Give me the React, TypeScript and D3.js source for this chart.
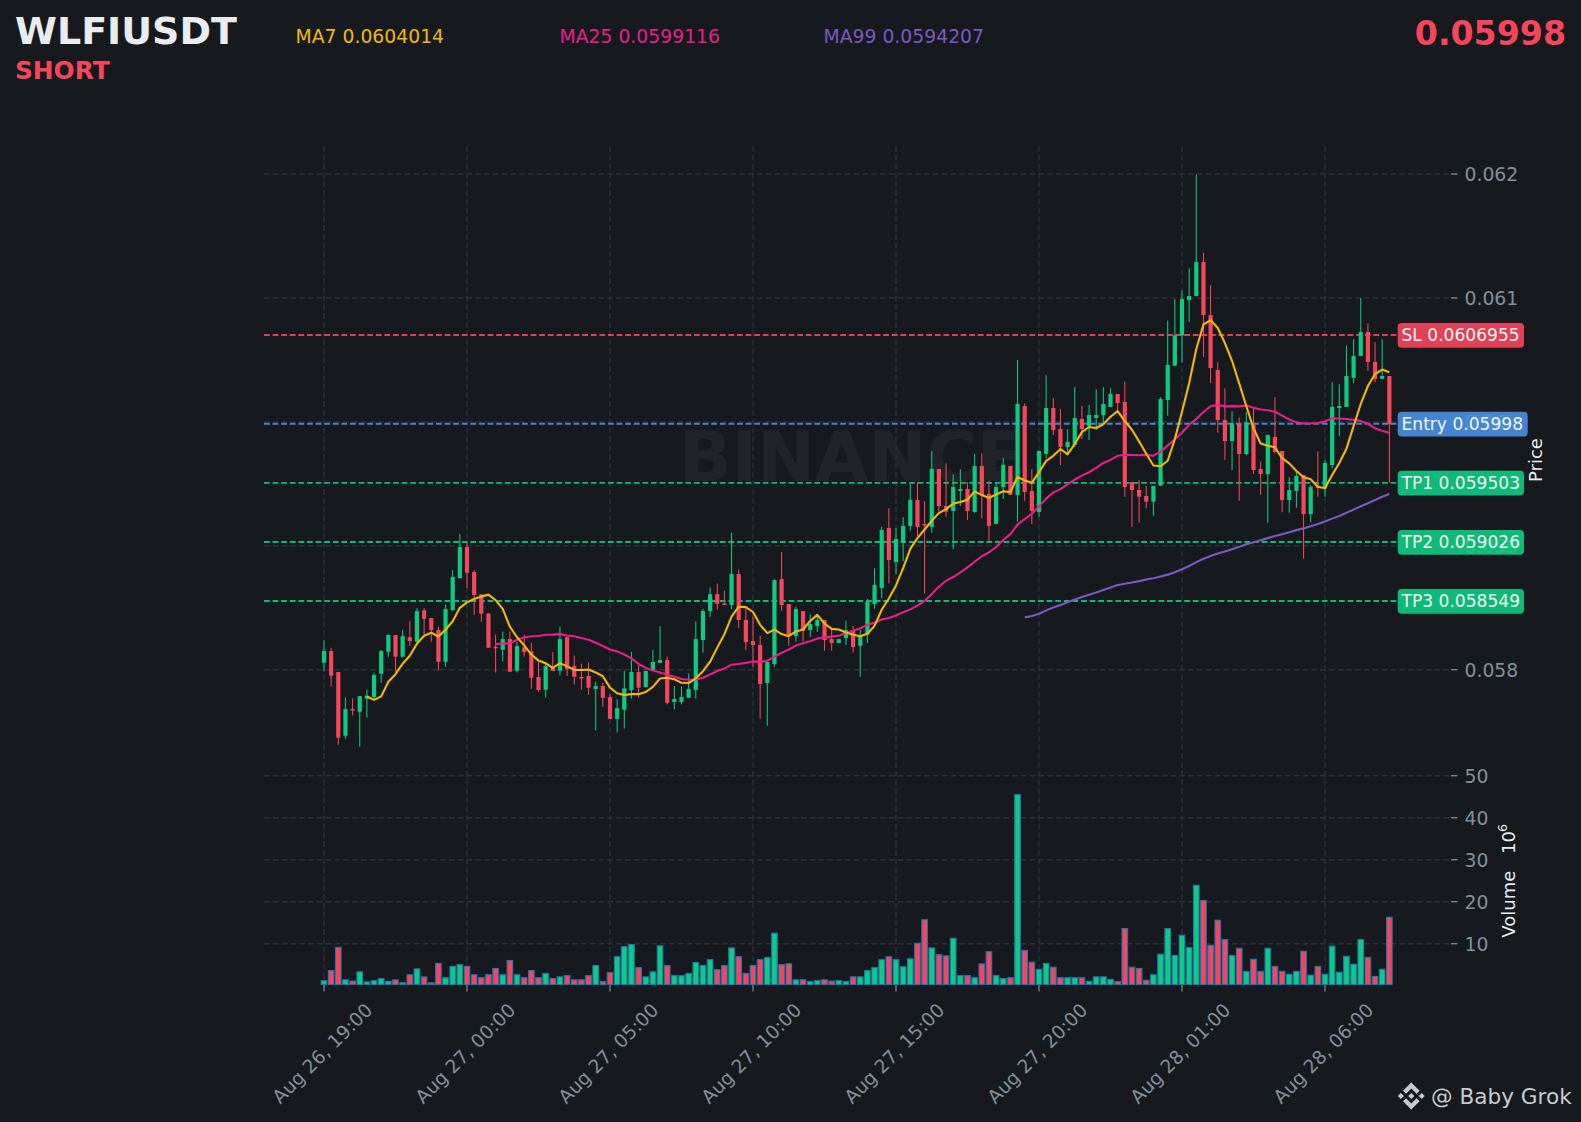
import React from "react";
import * as d3 from "d3";

// Prices in millionths of USDT, volumes in millions.
const opens = [58056,58150,57981,57467,57682,57661,57766,57779,57968,58145,58280,58105,58263,58226,58479,58417,58320,58064,58481,58740,58990,58788,58608,58454,58185,58161,58247,57992,58180,58148,57941,57838,58021,57992,58263,58029,57941,57949,57844,57868,57779,57602,57677,57836,57981,57860,57997,58054,58078,57739,57739,57774,57836,58239,58473,58610,58535,58522,58772,58401,58231,58199,57892,58046,58731,58530,58271,58473,58320,58352,58401,58247,58215,58255,58320,58193,58285,58530,58659,59144,58869,59025,59160,59370,59176,59152,59620,59321,59281,59442,59458,59273,59644,59418,59176,59474,59644,59410,60128,59442,59273,59741,60112,59942,59797,59813,60023,59967,60031,60055,60120,60225,60160,59512,59450,59401,59356,59485,60176,60453,60698,60983,61015,61290,60862,60418,60015,59845,59983,59740,59988,59619,59579,59878,59765,59369,59442,59571,59256,59482,59463,59652,60112,60120,60354,60531,60725,60483,60346,60370];
const highs = [58236,58177,57981,57777,57768,57787,57841,57976,58158,58285,58280,58320,58390,58495,58495,58417,58347,58527,58804,59095,59025,58804,58608,58454,58285,58309,58309,58226,58285,58218,58064,58051,58140,58347,58263,58115,58051,58059,57903,57895,57801,57760,57992,58145,58037,57992,58158,58350,58107,57868,57863,57970,58390,58489,58664,58696,58640,59108,58809,58495,58428,58271,58062,58729,58949,58530,58508,58473,58446,58446,58401,58333,58247,58395,58352,58320,58573,58818,59154,59302,59144,59230,59496,59512,59359,59762,59620,59665,59577,59617,59512,59741,59746,59525,59517,59708,59644,60499,60150,59617,59765,60376,60190,60101,59940,60281,60128,60136,60263,60279,60271,60225,60324,59517,59531,59485,59482,60198,60816,60989,61059,61239,61997,61365,61102,60480,60270,60085,60036,60077,60109,59681,59894,60198,59765,59552,59611,59571,59490,59762,59692,60319,60303,60617,60666,60999,60795,60644,60666,60370];
const lows = [57986,57865,57395,57443,57631,57381,57615,57755,57895,58105,57984,58099,58193,58220,58266,58226,57992,58024,58476,58734,58659,58444,58387,58177,57978,58067,57984,57978,58105,57846,57825,57777,57989,57954,57949,57881,57838,57798,57510,57701,57602,57494,57526,57768,57774,57857,57992,58054,57720,57680,57720,57774,57766,58137,58428,58484,58522,58487,58339,58158,58024,57604,57548,58019,58476,58193,58228,58228,58261,58306,58153,58153,58215,58199,58137,57943,58215,58492,58576,58697,58770,58875,59122,59079,58614,59106,59275,59235,58971,59321,59208,59267,59222,59033,59176,59378,59410,59195,59364,59176,59235,59706,59894,59652,59741,59795,59862,59854,59934,59975,60117,60090,59396,59154,59186,59302,59243,59482,60050,60451,60478,60808,61015,60526,60311,59913,59692,59611,59364,59730,59579,59412,59186,59746,59270,59267,59307,58898,59189,59396,59396,59625,59886,60120,60311,60531,60413,60321,60346,59509];
const closes = [58150,57951,57451,57682,57677,57787,57790,57957,58150,58280,58105,58271,58231,58473,58411,58320,58064,58489,58748,58990,58783,58602,58452,58177,58180,58247,57984,58191,58142,57935,57836,58029,57989,58247,58008,57943,57935,57855,57868,57774,57602,57690,57849,57981,57855,57989,58062,58078,57733,57763,57779,57844,58247,58473,58610,58532,58522,58772,58401,58223,58199,57884,58062,58723,58522,58280,58489,58312,58368,58401,58239,58215,58247,58320,58183,58280,58546,58683,59127,58885,59055,59160,59370,59152,59168,59620,59321,59275,59474,59458,59281,59644,59410,59160,59474,59652,59410,60144,59434,59281,59765,60112,59934,59797,59838,60031,59942,60055,60055,60144,60225,60152,59474,59450,59396,59356,59482,60184,60459,60698,60991,61015,61290,60862,60434,60015,59845,59988,59740,59996,59611,59579,59894,59757,59369,59450,59563,59256,59474,59469,59668,60120,60128,60370,60531,60725,60483,60346,60370,59980];
const volumes = [1.2,3.6,9.1,1.4,1.1,3.3,0.9,1.2,1.7,1.0,1.4,0.7,2.6,4.0,2.1,0.7,5.3,1.9,4.6,5.0,4.6,2.6,1.9,2.6,4.1,2.6,6.0,2.6,1.9,3.6,1.9,2.9,1.7,2.1,2.4,1.4,1.4,2.4,4.8,1.0,3.1,6.9,9.3,9.8,4.3,2.1,3.3,9.5,4.8,2.4,2.4,2.9,5.5,4.8,6.2,3.8,4.8,9.0,6.9,2.9,4.8,6.2,6.7,12.5,5.0,5.2,1.4,1.4,1.0,1.2,1.4,1.1,1.2,1.0,2.1,2.1,3.6,4.3,6.2,6.9,6.2,4.5,6.4,10.1,15.7,9.0,7.4,7.1,11.3,2.4,2.4,1.9,5.2,8.1,2.4,1.7,1.9,45.5,8.4,5.6,3.9,5.3,4.4,1.9,1.9,1.9,1.9,1.0,2.1,2.1,1.5,1.0,13.6,4.4,4.1,1.3,2.6,7.5,13.6,7.2,12.0,9.1,23.9,20.3,9.6,15.6,11.0,7.2,8.9,3.4,6.3,3.4,8.9,4.6,3.4,2.7,3.4,8.2,2.5,4.6,2.7,9.4,3.2,7.0,5.1,11.0,6.7,2.2,3.9,16.3];

const timeTicks = [
  { index: 0, label: "Aug 26, 19:00" },
  { index: 20, label: "Aug 27, 00:00" },
  { index: 40, label: "Aug 27, 05:00" },
  { index: 60, label: "Aug 27, 10:00" },
  { index: 80, label: "Aug 27, 15:00" },
  { index: 100, label: "Aug 27, 20:00" },
  { index: 120, label: "Aug 28, 01:00" },
  { index: 140, label: "Aug 28, 06:00" },
];
const priceTicks = [0.062, 0.061, 0.06, 0.059, 0.058];
const priceTickLabels = ["0.062", "0.061", "0.06", "0.059", "0.058"];
const volumeTicks = [10, 20, 30, 40, 50];
const levelNames = ["SL", "Entry", "TP1", "TP2", "TP3"];
const levelValues = [0.0606955, 0.05998, 0.059503, 0.059026, 0.058549];
const levelTexts = ["0.0606955", "0.05998", "0.059503", "0.059026", "0.058549"];
const levelColors = ["#f6465d", "#4a90e2", "#0ecb81", "#0ecb81", "#0ecb81"];
const maPeriods = [7, 25, 99];
const maColors = ["#f0b90b", "#e91e8c", "#7e57c2"];
const maLegendValues = ["0.0604014", "0.0599116", "0.0594207"];

const BG = "#161a1e";
const UP = "#0ecb81";
const DOWN = "#f6465d";
const GRID = "#2b3139";
const MUTED = "#848e9c";
const SANS = "'DejaVu Sans', sans-serif";

const toPrice = (v: number) => v / 1e6;
const movingAverage = (period: number) =>
  closes.map((_, i) => (i < period - 1 ? null : d3.mean(closes.slice(i - period + 1, i + 1))! / 1e6));

export default function App() {
  const W = 1581, H = 1122;
  const left = 264, right = 1449;
  const x = d3.scaleLinear().domain([0, 20]).range([324, 467]);
  const y = d3.scaleLinear().domain([0.062, 0.058]).range([174, 669.7]);
  const yv = d3.scaleLinear().domain([0, 50]).range([985.7, 775.7]);
  const volBottom = 984.5;
  const gridTop = 146;
  const levelShift = -0.6;
  const line = d3.line<number | null>()
    .defined((d) => d !== null)
    .x((_, i) => x(i))
    .y((d) => y(d as number));
  const dash = "5.8 3";

  return (
    <svg width={W} height={H} viewBox={`0 0 ${W} ${H}`}
      style={{ position: "absolute", left: 0, top: 0, background: BG, fontFamily: SANS }}>
      <rect width={W} height={H} fill={BG} />

      <text x={15} y={44} fontSize={38} fontWeight={700} fill="#eaecef">WLFIUSDT</text>
      <text x={15} y={79} fontSize={24.8} fontWeight={700} fill={DOWN}>SHORT</text>
      <text x={1566} y={44.5} fontSize={33.2} fontWeight={700} fill={DOWN} textAnchor="end">0.05998</text>
      {maPeriods.map((p, i) => (
        <text key={p} x={295.5 + i * 264} y={43} fontSize={18.8} fill={maColors[i]}>
          {`MA${p} ${maLegendValues[i]}`}
        </text>
      ))}

      <text x={851.5} y={481} fontSize={69} fontWeight={700} fill="#ffffff" fillOpacity={0.045} textAnchor="middle">BINANCE</text>

      {/* grids */}
      {timeTicks.map((t) => (
        <g key={t.index}>
          <line x1={x(t.index)} x2={x(t.index)} y1={gridTop} y2={volBottom} stroke={GRID} strokeWidth={1.4} strokeDasharray={dash} />
          <line x1={x(t.index)} x2={x(t.index)} y1={volBottom} y2={volBottom + 7} stroke={MUTED} strokeWidth={1.2} />
          <text transform={`translate(${x(t.index) + 3},1058) rotate(-45)`} fontSize={18.7} fill={MUTED} textAnchor="middle">{t.label}</text>
        </g>
      ))}
      {priceTicks.map((p, i) => (
        <g key={p}>
          <line x1={left} x2={right} y1={y(p)} y2={y(p)} stroke={GRID} strokeWidth={1.4} strokeDasharray={dash} />
          <line x1={1451} x2={1457.5} y1={y(p)} y2={y(p)} stroke={MUTED} strokeWidth={1.3} />
          <text x={1464.5} y={y(p) + 7.2} fontSize={18.8} fill={MUTED}>{priceTickLabels[i]}</text>
        </g>
      ))}
      {volumeTicks.map((v) => (
        <g key={v}>
          <line x1={left} x2={right} y1={yv(v)} y2={yv(v)} stroke={GRID} strokeWidth={1.4} strokeDasharray={dash} />
          <line x1={1451} x2={1457.5} y1={yv(v)} y2={yv(v)} stroke={MUTED} strokeWidth={1.3} />
          <text x={1464.5} y={yv(v) + 7.2} fontSize={18.8} fill={MUTED}>{v}</text>
        </g>
      ))}

      {/* level lines */}
      {levelValues.map((v, i) => (
        <line key={levelNames[i]} x1={left} x2={1398} y1={y(v) + levelShift} y2={y(v) + levelShift} stroke={levelColors[i]} strokeOpacity={0.9} strokeWidth={1.9} strokeDasharray="5.8 2.8" />
      ))}

      {/* candles */}
      {opens.map((o, i) => {
        const c = closes[i];
        const col = c >= o ? UP : DOWN;
        const top = y(toPrice(Math.max(o, c)));
        const bot = y(toPrice(Math.min(o, c)));
        return (
          <g key={i}>
            <line x1={x(i)} x2={x(i)} y1={y(toPrice(highs[i]))} y2={y(toPrice(lows[i]))} stroke={col} strokeWidth={1.05} />
            <rect x={x(i) - 2.1} width={4.2} y={top} height={Math.max(bot - top, 1.5)} fill={col} />
          </g>
        );
      })}

      {/* moving averages */}
      {[2, 1, 0].map((k) => (
        <path key={k} d={line(movingAverage(maPeriods[k])) ?? ""} fill="none" stroke={maColors[k]} strokeWidth={2.1} strokeLinejoin="round" />
      ))}

      {/* volume */}
      {volumes.map((v, i) => {
        const col = closes[i] >= opens[i] ? UP : DOWN;
        return (
          <rect key={i} x={x(i) - 2.8} width={5.6} y={yv(v)} height={Math.max(volBottom - yv(v), 0)}
            fill={col} stroke="#1f77b4" strokeWidth={1.1} />
        );
      })}

      {/* level labels */}
      {levelValues.map((v, i) => (
        <g key={levelNames[i]}>
          <rect x={1397.7} y={y(v) + levelShift - 12} width={levelNames[i] === "Entry" ? 130 : 126.3} height={24.7} rx={4} fill={levelColors[i]} fillOpacity={0.9} />
          <text x={1401.5} y={y(v) + levelShift + 5.8} fontSize={17.1} fill="#f4f5f6">{`${levelNames[i]} ${levelTexts[i]}`}</text>
        </g>
      ))}

      <text transform="translate(1541.5,482) rotate(-90)" fontSize={18} fill="#eaecef">Price</text>
      <text transform="translate(1515,937.7) rotate(-90)" fontSize={18} fill="#eaecef">Volume</text>
      <text transform="translate(1515,854) rotate(-90)" fontSize={18} fill="#eaecef">10</text>
      <text transform="translate(1507,832) rotate(-90)" fontSize={12.6} fill="#eaecef">6</text>

      {/* footer */}
      <g transform="translate(1411.3,1096) scale(0.213) translate(-63.3,-63.3)" fill="#c7cbd1">
        <path d="M38.73 53.2l24.59-24.58 24.6 24.6 14.3-14.31L63.32 0 24.43 38.9l14.3 14.3z" />
        <path d="M0 63.31l14.3-14.31 14.31 14.31-14.31 14.3z" />
        <path d="M38.73 73.41l24.59 24.59 24.6-24.6 14.31 14.29-38.9 38.91-38.91-38.88-.02-.02z" />
        <path d="M98 63.31l14.3-14.31 14.31 14.3-14.31 14.32z" />
        <path d="M77.83 63.3L63.32 48.78 52.59 59.51l-1.24 1.23-2.54 2.54 14.51 14.5 14.51-14.47z" />
      </g>
      <text x={1431} y={1104} fontSize={21.6} fill="#c7cbd1">@ Baby Grok</text>
    </svg>
  );
}
